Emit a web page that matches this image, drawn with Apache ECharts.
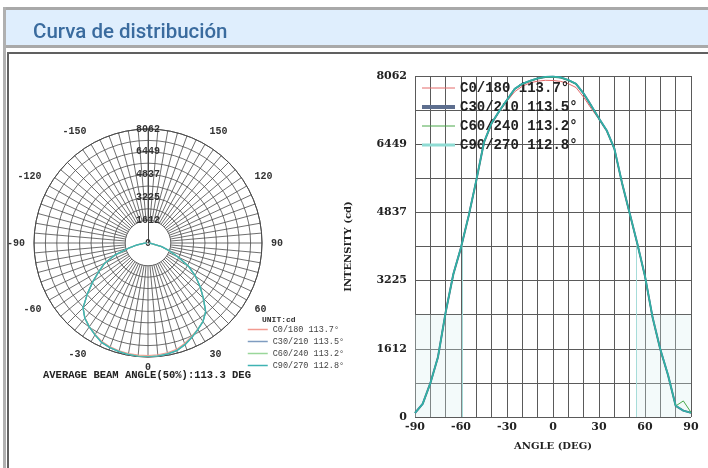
<!DOCTYPE html>
<html>
<head>
<meta charset="utf-8">
<script src="https://cdn.jsdelivr.net/npm/echarts@6/dist/echarts.min.js"></script>
<style>
  html, body { margin: 0; padding: 0; background: #fff; }
  #chart { width: 708px; height: 468px; }
</style>
</head>
<body>
<div id="chart"></div>
<script>
// angles (deg) of the measured points
var angles = [-90, -85, -80, -75, -70, -65, -60, -55, -50, -45, -40, -35, -30, -25, -20, -15, -10, -5, 0,
  5, 10, 15, 20, 25, 30, 35, 40, 45, 50, 55, 60, 65, 70, 75, 80, 85, 90]

// intensity (cd) per C plane
var c0 = [95, 310, 800, 1420, 2480, 3380, 4010, 4760, 5600, 6490, 6930, 7220, 7470, 7690, 7820, 7900, 7940, 7960, 7955,
  7935, 7880, 7790, 7560, 7290, 7040, 6770, 6340, 5530, 4810, 4090, 3320, 2340, 1590, 990, 265, 150, 100]
var c30 = [95, 310, 800, 1420, 2475, 3375, 4005, 4755, 5595, 6495, 6945, 7235, 7495, 7755, 7875, 7945, 8005, 8040, 8045,
  8025, 7965, 7875, 7645, 7355, 7055, 6775, 6345, 5535, 4815, 4095, 3325, 2345, 1595, 995, 265, 150, 100]
var c60 = [95, 305, 795, 1415, 2470, 3370, 4000, 4750, 5590, 6490, 6940, 7230, 7490, 7750, 7870, 7940, 8000, 8035, 8040,
  8020, 7960, 7870, 7640, 7350, 7050, 6770, 6340, 5530, 4810, 4090, 3320, 2340, 1590, 990, 260, 380, 110]
var c90 = [95, 310, 800, 1420, 2480, 3380, 4010, 4760, 5600, 6500, 6950, 7240, 7500, 7760, 7880, 7950, 8010, 8045, 8050,
  8030, 7970, 7880, 7650, 7360, 7060, 6780, 6350, 5540, 4820, 4100, 3330, 2350, 1600, 1000, 270, 150, 100]

var seriesNames = ['C0/180 113.7°', 'C30/210 113.5°', 'C60/240 113.2°', 'C90/270 112.8°']

// tick labels
var intensityLabels = ['0', '1612', '3225', '4837', '6449', '8062']
var beamEdges = [-58.9, 54.6]

var mono = 'Liberation Mono'
var slab = 'DejaVu Serif'

var chart = echarts.init(document.getElementById('chart'))

function cart(vals) {
  return angles.map(function(a, i) { return [a, vals[i]] })
}
function pol(vals) {
  return angles.map(function(a, i) { return [vals[i], a] })
}

// cartesian line colours / widths
var cartStyle = [
  { color: '#e46a6a', width: 1 },
  { color: '#56688a', width: 2 },
  { color: '#4aa84a', width: 1 },
  { color: '#2fb1a9', width: 1.6 }
]
// polar line colours
var polStyle = [
  { color: '#f29a90', width: 1.2 },
  { color: '#7f9cc0', width: 1.2 },
  { color: '#9ad79a', width: 1.2 },
  { color: '#3fb3b3', width: 1.4 }
]
var legendCart = [
  { color: '#e46a6a', width: 1 },
  { color: '#5d6e8e', width: 4 },
  { color: '#4aa84a', width: 1 },
  { color: '#8fdcd4', width: 3 }
]
var hidden = { color: 'rgba(0,0,0,0)', borderWidth: 0 }

var allData = [c0, c30, c60, c90]
var series = []
allData.forEach(function(vals, k) {
  var s = {
    name: seriesNames[k],
    type: 'line',
    xAxisIndex: 0,
    yAxisIndex: 0,
    symbol: 'none',
    data: cart(vals),
    color: cartStyle[k].color,
    lineStyle: { color: cartStyle[k].color, width: cartStyle[k].width },
    z: 3 + k
  }
  if (k === 3) {
    s.markLine = {
      silent: true,
      symbol: 'none',
      label: { show: false },
      lineStyle: { color: '#a6dcd9', width: 1, type: 'solid' },
      data: beamEdges.map(function(e) { return [{ coord: [e, 0] }, { coord: [e, 4031] }] })
    }
    s.markArea = {
      silent: true,
      itemStyle: { color: 'rgba(215,240,240,0.3)' },
      data: [
        [{ coord: [-90, 0] }, { coord: [beamEdges[0], 2419] }],
        [{ coord: [beamEdges[1], 0] }, { coord: [90, 2419] }]
      ]
    }
  }
  series.push(s)
})
allData.forEach(function(vals, k) {
  series.push({
    name: seriesNames[k],
    type: 'line',
    coordinateSystem: 'polar',
    polarIndex: 1,
    symbol: 'none',
    data: pol(vals),
    color: polStyle[k].color,
    lineStyle: { color: polStyle[k].color, width: polStyle[k].width },
    z: 3 + k
  })
})

var ringColors = []
for (var i = 0; i <= 10; i++) ringColors.push(i === 1 ? 'rgba(0,0,0,0)' : '#4a4a4a')

chart.setOption({
  animation: false,
  backgroundColor: '#fff',
  graphic: [
    { type: 'rect', z: 0, shape: { x: 3, y: 7, width: 720, height: 41 }, style: { fill: '#a9a9a9' } },
    { type: 'rect', z: 0, shape: { x: 6, y: 10, width: 720, height: 35 }, style: { fill: '#dfeefd' } },
    { type: 'rect', z: 0, shape: { x: 3, y: 7, width: 3, height: 470 }, style: { fill: '#b0b0b0' } },
    { type: 'rect', z: 0, shape: { x: 8, y: 53, width: 760, height: 460 }, style: { fill: 'none', stroke: '#606060', lineWidth: 2 } }
  ],
  title: [
    { text: 'Curva de distribución', left: 33, top: 22, padding: 0,
      textStyle: { fontSize: 20.5, color: '#3a6b9e', fontFamily: 'Roboto', fontWeight: 500 } },
    { text: 'UNIT:cd', left: 262, top: 316, padding: 0,
      textStyle: { fontSize: 8, color: '#333', fontFamily: mono, fontWeight: 'bold' } },
    { text: 'AVERAGE BEAM ANGLE(50%):113.3 DEG', left: 43, top: 370, padding: 0,
      textStyle: { fontSize: 10.5, color: '#222', fontFamily: mono, fontWeight: 'bold' } }
  ],
  legend: [
    {
      left: 420, top: 81, orient: 'vertical', padding: 0,
      itemWidth: 33, itemHeight: 14, itemGap: 5,
      selectedMode: false,
      textStyle: { fontSize: 14, fontFamily: mono, fontWeight: 'bold', color: '#222' },
      data: seriesNames.map(function(n, k) {
        return { name: n, lineStyle: { color: legendCart[k].color, width: legendCart[k].width }, itemStyle: hidden }
      })
    },
    {
      left: 247, top: 325, orient: 'vertical', padding: 0,
      itemWidth: 20, itemHeight: 8, itemGap: 3,
      selectedMode: false,
      textStyle: { fontSize: 8.5, fontFamily: mono, color: '#444' },
      data: seriesNames.map(function(n, k) {
        return { name: n, lineStyle: { color: polStyle[k].color, width: 1.5 }, itemStyle: hidden }
      })
    }
  ],
  grid: { left: 415, top: 76, width: 276, height: 341 },
  xAxis: {
    type: 'value', min: -90, max: 90, interval: 10,
    name: 'ANGLE (DEG)', nameLocation: 'middle', nameGap: 24,
    nameTextStyle: { fontSize: 10, fontFamily: slab, fontWeight: 'bold', color: '#222' },
    axisLine: { show: false }, axisTick: { show: false },
    axisLabel: { margin: 5, fontSize: 11, fontFamily: slab, fontWeight: 'bold', color: '#222',
      formatter: function(v) { return v % 30 === 0 ? String(v) : '' } },
    splitLine: { show: true, lineStyle: { color: '#5a5a5a', width: 1 } }
  },
  yAxis: {
    type: 'value', min: 0, max: 8062, interval: 806.2,
    name: 'INTENSITY (cd)', nameLocation: 'middle', nameGap: 62, nameRotate: 90,
    nameTextStyle: { fontSize: 10, fontFamily: slab, fontWeight: 'bold', color: '#222' },
    axisLine: { show: false }, axisTick: { show: false },
    axisLabel: { margin: 8, fontSize: 11, fontFamily: slab, fontWeight: 'bold', color: '#222',
      formatter: function(v, i) { return i % 2 === 0 ? intensityLabels[i / 2] : '' } },
    splitLine: { show: true, lineStyle: { color: '#5a5a5a', width: 1 } }
  },
  polar: [
    { center: [148, 243], radius: [22.5, 114] },
    { center: [148, 243], radius: [0, 114] }
  ],
  angleAxis: [
    {
      polarIndex: 0, type: 'value', min: -180, max: 180, interval: 5,
      startAngle: 90, clockwise: false,
      axisLine: { show: false }, axisTick: { show: false }, axisLabel: { show: false },
      splitLine: { show: true, lineStyle: { color: '#4a4a4a', width: 0.8 } }
    },
    {
      polarIndex: 1, type: 'value', min: -180, max: 180, interval: 30,
      startAngle: 90, clockwise: false,
      axisLine: { show: true, lineStyle: { color: '#4a4a4a', width: 1 } },
      axisTick: { show: false },
      axisLabel: { margin: 9, fontSize: 10, fontFamily: mono, fontWeight: 'bold', color: '#333',
        formatter: function(v) {
          if (Math.abs(v) === 180) return ''
          return v === 0 ? '{z|0}' : String(v)
        },
        rich: { z: { lineHeight: 2, fontSize: 10, fontFamily: mono, fontWeight: 'bold', color: '#333' } } },
      splitLine: { show: false }
    }
  ],
  radiusAxis: [
    { polarIndex: 0, type: 'value', min: 0, max: 1, show: false },
    {
      polarIndex: 1, type: 'value', min: 0, max: 8062, interval: 806.2,
      axisLine: { show: true, lineStyle: { color: '#4a4a4a', width: 1 } },
      axisTick: { show: false },
      axisLabel: { margin: 0, align: 'center', verticalAlign: 'middle', fontSize: 10, fontFamily: mono, fontWeight: 'bold', color: '#333',
        formatter: function(v, i) { return i % 2 === 0 ? intensityLabels[i / 2] : '' } },
      splitLine: { show: true, lineStyle: { color: ringColors, width: 0.8 } }
    }
  ],
  series: series
})
</script>
</body>
</html>
